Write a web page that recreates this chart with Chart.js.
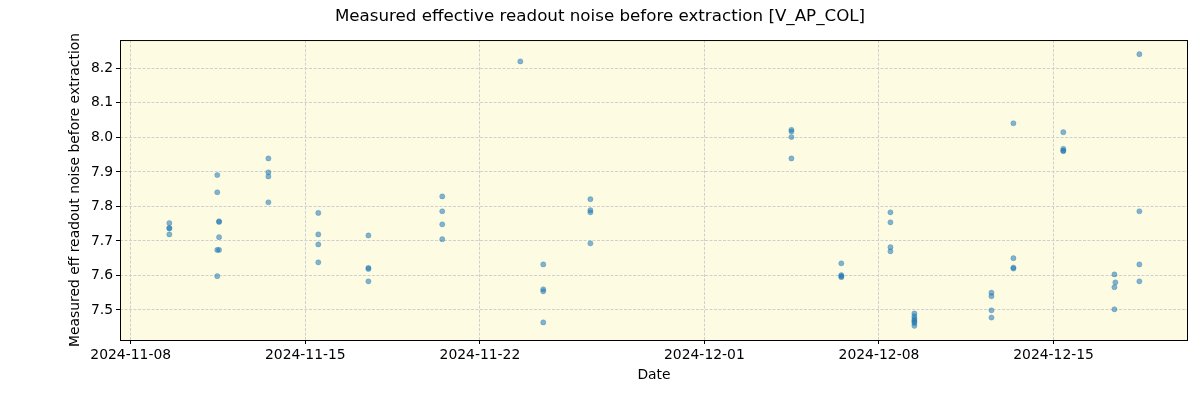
<!DOCTYPE html>
<html>
<head>
<meta charset="utf-8">
<script src="https://cdn.jsdelivr.net/npm/chart.js@4"></script>
<style>
  html, body { margin: 0; padding: 0; background: #ffffff; }
  #wrap { width: 1200px; height: 400px; }
</style>
</head>
<body>
<div id="wrap"><canvas id="noiseCanvas"></canvas></div>
<script>
const obsDates = [
  '2024-11-09T13:10', '2024-11-09T13:10', '2024-11-09T13:10', '2024-11-09T13:10',
  '2024-11-11T11:17', '2024-11-11T11:17', '2024-11-11T13:00', '2024-11-11T13:00',
  '2024-11-11T13:00', '2024-11-11T11:17', '2024-11-11T13:00', '2024-11-11T11:17',
  '2024-11-13T12:29', '2024-11-13T12:29', '2024-11-13T12:29', '2024-11-13T12:29',
  '2024-11-15T12:29', '2024-11-15T12:29', '2024-11-15T12:29', '2024-11-15T12:29',
  '2024-11-17T12:43', '2024-11-17T12:43', '2024-11-17T12:43', '2024-11-17T12:43',
  '2024-11-20T11:46', '2024-11-20T11:46', '2024-11-20T11:46', '2024-11-20T11:46',
  '2024-11-23T14:53',
  '2024-11-24T12:58', '2024-11-24T12:58', '2024-11-24T12:58', '2024-11-24T12:58',
  '2024-11-26T10:19', '2024-11-26T10:19', '2024-11-26T10:19', '2024-11-26T10:19',
  '2024-12-04T11:46', '2024-12-04T11:46', '2024-12-04T11:46', '2024-12-04T11:46',
  '2024-12-06T11:46', '2024-12-06T11:46', '2024-12-06T11:46', '2024-12-06T11:46',
  '2024-12-08T11:02', '2024-12-08T11:02', '2024-12-08T11:02', '2024-12-08T11:02',
  '2024-12-09T10:05', '2024-12-09T10:05', '2024-12-09T10:05', '2024-12-09T10:05',
  '2024-12-09T10:05', '2024-12-09T10:05', '2024-12-09T10:05',
  '2024-12-12T12:14', '2024-12-12T12:14', '2024-12-12T12:14', '2024-12-12T12:14',
  '2024-12-13T09:22', '2024-12-13T09:22', '2024-12-13T09:22', '2024-12-13T09:22',
  '2024-12-15T09:22', '2024-12-15T09:22', '2024-12-15T09:22', '2024-12-15T09:22',
  '2024-12-17T10:34', '2024-12-17T11:30', '2024-12-17T10:34', '2024-12-17T10:34',
  '2024-12-18T10:34', '2024-12-18T10:34', '2024-12-18T10:34', '2024-12-18T10:34'
];
const noiseValues = [
  7.752, 7.738, 7.736, 7.719,
  7.891, 7.841, 7.757, 7.755,
  7.711, 7.674, 7.674, 7.598,
  7.939, 7.899, 7.887, 7.812,
  7.781, 7.719, 7.690, 7.638,
  7.716, 7.622, 7.619, 7.583,
  7.829, 7.786, 7.748, 7.705,
  8.220,
  7.632, 7.560, 7.554, 7.464,
  7.821, 7.789, 7.783, 7.693,
  8.022, 8.017, 8.001, 7.939,
  7.635, 7.601, 7.598, 7.595,
  7.783, 7.754, 7.682, 7.670,
  7.490, 7.482, 7.475, 7.470,
  7.466, 7.462, 7.454,
  7.550, 7.540, 7.499, 7.478,
  8.041, 7.650, 7.623, 7.620,
  8.015, 7.967, 7.962, 7.960,
  7.603, 7.580, 7.566, 7.502,
  8.241, 7.786, 7.632, 7.583
];

// tick labels
const xTickLabels = ['2024-11-08', '2024-11-15', '2024-11-22', '2024-12-01', '2024-12-08', '2024-12-15'];
const yTickValues = [7.5, 7.6, 7.7, 7.8, 7.9, 8.0, 8.1, 8.2];

// x axis is "days since 2024-11-08" (no date adapter offline)
const baseMs = Date.UTC(2024, 10, 8);
const toDays = (s) => (new Date(s + (s.length > 10 ? ':00Z' : 'T00:00:00Z')).getTime() - baseMs) / 86400000;
const fromDays = (d) => new Date(baseMs + d * 86400000).toISOString().slice(0, 10);

const points = obsDates.map((d, i) => ({ x: toDays(d), y: noiseValues[i] }));

// plot background + frame like the matplotlib axes
const framePlugin = {
  id: 'frame',
  beforeDraw(chart) {
    const { ctx, chartArea: a } = chart;
    ctx.save();
    ctx.fillStyle = '#fdfce3';
    ctx.fillRect(a.left, a.top, a.right - a.left, a.bottom - a.top);
    ctx.restore();
  },
  afterDraw(chart) {
    const { ctx, chartArea: a } = chart;
    ctx.save();
    ctx.strokeStyle = '#000000';
    ctx.lineWidth = 1;
    ctx.strokeRect(a.left + 0.5, a.top + 0.5, a.right - a.left - 1, a.bottom - a.top);
    ctx.restore();
  }
};

const tickFont = { family: 'DejaVu Sans', size: 13.9 };

new Chart(document.getElementById('noiseCanvas'), {
  type: 'scatter',
  data: {
    datasets: [{
      data: points,
      backgroundColor: 'rgba(31, 119, 180, 0.55)',
      borderColor: 'rgba(31, 119, 180, 0.55)',
      borderWidth: 0.5,
      pointRadius: 2.6,
      pointHoverRadius: 2.6
    }]
  },
  options: {
    responsive: true,
    maintainAspectRatio: false,
    animation: false,
    layout: { padding: { left: 12, right: 12, top: 0, bottom: 0 } },
    plugins: {
      legend: { display: false },
      tooltip: { enabled: false },
      title: {
        display: true,
        text: 'Measured effective readout noise before extraction [V_AP_COL]',
        color: '#000000',
        font: { family: 'DejaVu Sans', size: 16.7, weight: 'normal' },
        padding: { top: 7, bottom: 13 }
      }
    },
    scales: {
      x: {
        type: 'linear',
        min: -0.43,
        max: 42.39,
        afterBuildTicks: (axis) => {
          axis.ticks = xTickLabels.map(s => ({ value: toDays(s) }));
        },
        afterFit: (axis) => { axis.height = 60; },
        ticks: {
          color: '#000000',
          font: tickFont,
          padding: 3,
          maxRotation: 0,
          autoSkip: false,
          callback: (v) => fromDays(v)
        },
        grid: {
          color: '#d0d0d0',
          tickColor: '#000000',
          tickLength: 4,
          tickBorderDash: []
        },
        border: { display: false, dash: [3, 1.5] },
        title: {
          display: true,
          text: 'Date',
          color: '#000000',
          font: tickFont,
          padding: { top: 0, bottom: 16 }
        }
      },
      y: {
        min: 7.413,
        max: 8.282,
        afterBuildTicks: (axis) => {
          axis.ticks = yTickValues.map(v => ({ value: v }));
        },
        afterFit: (axis) => { axis.width = 108; },
        ticks: {
          color: '#000000',
          font: tickFont,
          padding: 3,
          callback: (v) => v.toFixed(1)
        },
        grid: {
          color: '#d0d0d0',
          tickColor: '#000000',
          tickLength: 4,
          tickBorderDash: []
        },
        border: { display: false, dash: [3, 1.5] },
        title: {
          display: true,
          text: 'Measured eff readout noise before extraction',
          color: '#000000',
          font: tickFont,
          padding: { top: 55, bottom: 0 }
        }
      }
    }
  },
  plugins: [framePlugin]
});
</script>
</body>
</html>
